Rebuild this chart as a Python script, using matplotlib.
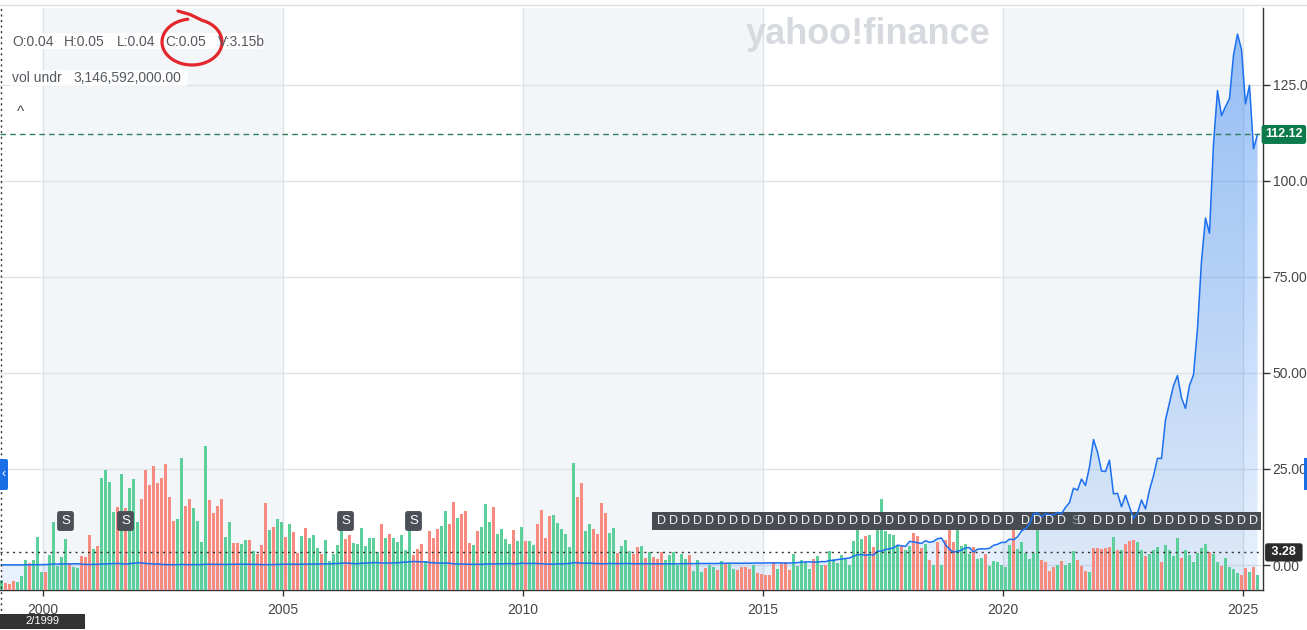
import numpy as np
import pandas as pd
import matplotlib.pyplot as plt
from matplotlib.patches import Rectangle, FancyBboxPatch
from matplotlib.transforms import blended_transform_factory

plt.rcParams['font.family'] = ['Liberation Sans', 'DejaVu Sans']

# monthly data, Feb 1999 .. Apr 2025 (split adjusted)
months = pd.date_range('1999-02-01', '2025-04-01', freq='MS')

close = [
    0.05, 0.04, 0.04, 0.04, 0.04, 0.04, 0.05, 0.06, 0.07, 0.08, 0.10,
    0.11, 0.17, 0.27, 0.24, 0.27, 0.27, 0.28, 0.32, 0.32, 0.25, 0.14, 0.14,
    0.19, 0.16, 0.27, 0.28, 0.33, 0.39, 0.41, 0.33, 0.23, 0.35, 0.46, 0.56,
    0.55, 0.40, 0.37, 0.23, 0.29, 0.14, 0.10, 0.10, 0.07, 0.10, 0.15, 0.10,
    0.09, 0.10, 0.11, 0.12, 0.20, 0.19, 0.17, 0.15, 0.14, 0.15, 0.18, 0.19,
    0.20, 0.20, 0.22, 0.18, 0.16, 0.17, 0.09, 0.11, 0.12, 0.12, 0.15, 0.20,
    0.19, 0.24, 0.20, 0.18, 0.23, 0.22, 0.23, 0.24, 0.29, 0.28, 0.30, 0.30,
    0.38, 0.37, 0.48, 0.53, 0.45, 0.36, 0.32, 0.49, 0.50, 0.56, 0.62, 0.62,
    0.52, 0.54, 0.48, 0.56, 0.56, 0.69, 0.76, 0.82, 0.91, 0.88, 0.79, 0.85,
    0.62, 0.57, 0.49, 0.52, 0.50, 0.47, 0.29, 0.28, 0.27, 0.22, 0.19, 0.20,
    0.19, 0.18, 0.25, 0.29, 0.27, 0.28, 0.31, 0.34, 0.38, 0.30, 0.32, 0.47,
    0.39, 0.39, 0.43, 0.39, 0.34, 0.26, 0.23, 0.23, 0.29, 0.30, 0.34, 0.39,
    0.61, 0.57, 0.46, 0.45, 0.50, 0.40, 0.35, 0.32, 0.31, 0.40, 0.38, 0.35,
    0.37, 0.39, 0.39, 0.32, 0.32, 0.35, 0.33, 0.34, 0.33, 0.30, 0.30, 0.31,
    0.31, 0.31, 0.32, 0.35, 0.36, 0.35, 0.35, 0.39, 0.39, 0.38, 0.38, 0.40,
    0.39, 0.45, 0.45, 0.48, 0.48, 0.46, 0.44, 0.48, 0.46, 0.49, 0.52, 0.50,
    0.54, 0.57, 0.52, 0.55, 0.55, 0.50, 0.50, 0.56, 0.62, 0.71, 0.80, 0.82,
    0.73, 0.77, 0.89, 0.87, 1.17, 1.18, 1.43, 1.53, 1.71, 1.82, 2.30, 2.67,
    2.73, 2.53, 2.72, 2.60, 3.61, 3.61, 4.04, 4.22, 4.47, 5.17, 5.00, 4.84,
    6.14, 6.02, 5.79, 5.62, 6.31, 5.92, 6.12, 6.85, 7.03, 5.27, 4.09, 3.34,
    3.59, 3.86, 4.49, 4.52, 3.38, 4.11, 4.22, 4.19, 4.35, 5.12, 5.40, 5.88,
    5.90, 6.73, 6.59, 7.31, 8.87, 9.50, 10.61, 13.38, 13.53, 12.53, 13.40, 13.05,
    12.99, 13.71, 13.34, 15.00, 16.24, 20.00, 19.50, 22.38, 20.71, 25.57, 32.68, 29.41,
    24.49, 24.35, 27.29, 18.54, 18.66, 15.16, 18.16, 15.09, 12.14, 13.50, 16.92, 14.61,
    19.54, 23.21, 27.78, 27.75, 37.81, 42.30, 46.72, 49.35, 43.50, 40.78, 46.77, 49.52,
    61.53, 79.11, 90.36, 86.40, 109.63, 123.54, 117.02, 119.37, 121.44, 132.76, 138.25, 134.29,
    120.07, 124.92, 108.38, 112.12,
]

# monthly volume, billions of shares
volume = [
    3.15, 2.2, 1.8, 2.7, 2.4, 4.2, 9.0, 8.1, 9.0, 15.9,
    5.4, 5.4, 10.5, 20.4, 7.2, 9.9, 15.3, 8.1, 6.9, 6.6,
    10.2, 9.9, 16.5, 12.3, 13.2, 33.6, 36.0, 32.4, 23.4, 24.9,
    34.8, 24.6, 30.6, 33.3, 20.4, 27.3, 36.0, 31.5, 37.2, 32.1,
    33.6, 37.8, 27.9, 20.7, 21.3, 39.6, 25.2, 27.3, 24.6, 20.7,
    14.4, 43.2, 27.0, 23.1, 25.2, 27.3, 15.9, 20.4, 14.1, 14.1,
    13.8, 15.0, 15.0, 11.7, 10.8, 13.5, 26.1, 18.0, 18.9, 21.3,
    20.4, 15.9, 19.8, 17.4, 11.1, 16.2, 18.6, 15.6, 16.5, 12.6,
    10.8, 15.0, 8.7, 10.8, 13.5, 18.0, 15.3, 16.5, 14.1, 13.8,
    18.6, 13.2, 15.6, 15.6, 11.4, 19.8, 15.6, 16.8, 15.6, 14.4,
    16.5, 12.0, 18.3, 10.5, 12.3, 13.8, 8.7, 17.7, 15.6, 18.3,
    19.2, 23.7, 19.8, 26.4, 21.6, 22.8, 23.7, 14.1, 13.5, 17.7,
    18.9, 25.8, 20.4, 24.9, 16.8, 18.3, 15.3, 13.8, 18.0, 14.7,
    18.9, 14.7, 14.7, 13.5, 19.8, 24.0, 15.6, 22.2, 22.5, 20.1,
    18.3, 16.8, 12.9, 38.1, 27.9, 32.1, 17.7, 19.8, 18.3, 16.8,
    26.1, 23.1, 17.1, 18.6, 11.1, 13.2, 15.0, 11.7, 10.8, 12.9,
    13.2, 9.6, 11.4, 9.9, 9.3, 11.4, 9.0, 10.5, 11.4, 7.5,
    10.8, 9.3, 10.5, 5.7, 9.0, 5.4, 6.6, 7.5, 6.9, 6.0,
    8.7, 8.1, 7.8, 6.3, 6.0, 6.9, 6.9, 6.3, 7.5, 5.1,
    4.8, 4.5, 4.5, 8.4, 6.3, 8.1, 8.4, 6.0, 10.8, 7.2,
    9.0, 8.4, 6.3, 9.3, 10.2, 7.5, 7.5, 11.7, 9.3, 8.1,
    10.5, 9.6, 7.5, 14.7, 20.1, 15.3, 16.2, 16.5, 12.9, 20.1,
    27.3, 17.7, 16.8, 16.5, 13.5, 13.2, 12.0, 13.2, 17.1, 16.2,
    12.6, 13.8, 9.0, 7.5, 14.4, 7.5, 15.0, 19.5, 14.4, 19.5,
    13.2, 13.8, 10.8, 12.9, 9.3, 9.6, 10.8, 7.2, 8.7, 8.4,
    7.5, 6.9, 13.5, 18.9, 12.3, 14.4, 11.1, 9.3, 11.1, 18.0,
    9.0, 8.4, 5.7, 6.9, 7.5, 8.7, 7.5, 8.1, 11.7, 9.0,
    7.2, 5.7, 5.4, 12.6, 12.6, 12.3, 12.6, 12.9, 15.9, 12.0,
    12.0, 13.8, 14.7, 15.0, 14.4, 12.0, 10.2, 10.8, 12.0, 12.9,
    8.4, 13.5, 12.0, 10.2, 15.6, 9.6, 12.0, 10.5, 8.4, 11.1,
    12.6, 13.8, 11.4, 10.8, 8.4, 7.2, 9.6, 6.9, 6.3, 5.1,
    4.5, 6.6, 5.4, 6.9, 4.5,
]

# g = up month, r = down month
direction = (
    "grrrgggrgg" "grgggggrgg" "rrrgrggggr" "grgggrrrrr" "rrrrggrrgg"
    "ggrrrrggrr" "ggrgrrrgrg" "grgrrgrggg" "rgggggrrgg" "gggggrgrgg"
    "gggrrrgrrr" "ggrrgrrrgr" "gggrggggrg" "grggrrrrgg" "ggggrrggrr"
    "rrggrgggrr" "grgrrrgggg" "ggrgggrggr" "grggrrrrgr" "rrrrgrrrgg"
    "gggrggrggg" "ggggggrgrg" "gggggrggrr" "rgrgrgrrrg" "gggrggrggg"
    "gggrgggggg" "rrrrgrgggr" "rrgrrrrrgr" "grrrggrggg" "rggggrgggg"
    "ggrggrgggg" "rrgrg"
)

split_dates = ['2000-06-01', '2001-09-01', '2006-04-01', '2007-09-01']
div_dates = list(pd.date_range('2012-11-01', '2020-02-01', freq='3MS')) + list(pd.to_datetime([
    '2020-06-01', '2020-09-01', '2020-12-01', '2021-03-01', '2021-08-01', '2021-12-01',
    '2022-03-01', '2022-06-01', '2022-11-01', '2023-03-01', '2023-06-01', '2023-09-01',
    '2023-12-01', '2024-03-01', '2024-09-01', '2024-12-01', '2025-03-01']))
band_extra = [('2024-06-01', 'S', 'white'), ('2021-06-15', 'S', '#8d9299'), ('2022-08-19', 'I', 'white')]

last_price = 112.12
ref_price = 3.28
year_ticks = [2000, 2005, 2010, 2015, 2020, 2025]
price_ticks = [0, 25, 50, 75, 100, 125]


def to_t(d):
    d = pd.Timestamp(d)
    return d.year + (d.month - 1) / 12 + (d.day - 1) / 365.25 + 0.052


t = np.array([to_t(m) for m in months])
X0, X1 = 1999.1042, 2025.4167
Y0, Y1 = -6.51, 145.05

W, H = 1307, 630
fig = plt.figure(figsize=(W / 100, H / 100), dpi=100)
rect = [0, 40 / H, 1263 / W, 582 / H]

# base axes: bands, grid, gradient area, ticks
ax = fig.add_axes(rect)
ax.set_xlim(X0, X1)
ax.set_ylim(Y0, Y1)
for a in [2000, 2010, 2020]:
    ax.axvspan(a, a + 5, color='#f3f6f9', lw=0, zorder=0)
ax.set_xticks(year_ticks)
ax.set_xticklabels([str(y) for y in year_ticks])
ax.set_yticks(price_ticks)
ax.set_yticklabels(['%.2f' % v for v in price_ticks])
ax.yaxis.tick_right()
ax.grid(True, color='#dfe2e7', lw=1)
ax.set_axisbelow(True)
ax.tick_params(axis='x', length=4, width=1, color='#333333', pad=5, labelsize=10, labelcolor='#464646')
ax.tick_params(axis='y', length=5, width=1, color='#333333', pad=2, labelsize=10, labelcolor='#464646')
for s in ['top', 'left']:
    ax.spines[s].set_visible(False)
for s in ['right', 'bottom']:
    ax.spines[s].set_color('#333333')
    ax.spines[s].set_linewidth(1)

fill = ax.fill_between(t, close, Y0, facecolor='none', edgecolor='none')
n = 256
grad = np.zeros((n, 1, 4))
grad[:, 0, 0], grad[:, 0, 1], grad[:, 0, 2] = 0.12, 0.47, 0.94
grad[:, 0, 3] = np.linspace(0.46, 0.095, n)
im = ax.imshow(grad, extent=[X0, X1, Y0, Y1], aspect='auto', origin='upper',
               interpolation='bilinear', zorder=1)
im.set_clip_path(fill.get_paths()[0], transform=ax.transData)
ax.set_xlim(X0, X1)
ax.set_ylim(Y0, Y1)

# volume bars
axv = fig.add_axes(rect, sharex=ax)
axv.patch.set_visible(False)
axv.axis('off')
axv.set_ylim(0, 174.6)
bar_colors = ['#5dcf9b' if c == 'g' else '#f88b80' for c in direction]
axv.bar(t, volume, width=0.06, color=bar_colors, linewidth=0)

# price line and markers
axp = fig.add_axes(rect, sharex=ax, sharey=ax)
axp.patch.set_visible(False)
axp.axis('off')
axp.plot(t, close, color='#1b6ff0', lw=1.1)
axp.axhline(last_price, color='#2f7d5c', lw=1, ls=(0, (4, 3)))
axp.axhline(ref_price, color='#333333', lw=1, ls=(0, (1.5, 3)))

ty = blended_transform_factory(axp.transAxes, axp.transData)
axp.text(1.0165, last_price, last_price and '%.2f' % last_price, transform=ty, ha='center', va='center',
         color='white', fontsize=9, fontweight='bold', clip_on=False,
         bbox=dict(boxstyle='round,pad=0.28,rounding_size=0.2', fc='#0c7a4b', ec='none'))
axp.text(1.0165, ref_price, ' %.2f ' % ref_price, transform=ty, ha='center', va='center',
         color='white', fontsize=9, fontweight='bold', clip_on=False,
         bbox=dict(boxstyle='round,pad=0.25,rounding_size=0.2', fc='#2b2b2b', ec='none'))

tx = blended_transform_factory(axp.transData, axp.transAxes)
my = (590 - 521) / 582
for d in split_dates:
    axp.text(to_t(d), my, 'S', transform=tx, ha='center', va='center', color='white', fontsize=9.5,
             bbox=dict(boxstyle='round,pad=0.3,rounding_size=0.2', fc='#4b5058', ec='none'))

dx = [to_t(d) for d in div_dates]
axp.add_patch(Rectangle((dx[0] - 0.2, (590 - 530) / 582), dx[-1] - dx[0] + 0.35, 18 / 582,
                        transform=tx, fc='#474c53', ec='none'))
for x in dx:
    axp.text(x, my, 'D', transform=tx, ha='center', va='center', color='#f2f2f2', fontsize=9)
for d, lab, col in band_extra:
    axp.text(to_t(d), my, lab, transform=tx, ha='center', va='center', color=col, fontsize=9)

# crosshair at first month
axp.plot([t[0], t[0]], [(H - 616) / H, (H - 5) / H], color='#333333', lw=1, ls=(0, (1.5, 2.5)),
         transform=blended_transform_factory(axp.transData, fig.transFigure), clip_on=False)

# overlay in pixel coordinates for the UI chrome
ov = fig.add_axes([0, 0, 1, 1])
ov.set_xlim(0, W)
ov.set_ylim(H, 0)
ov.axis('off')
ov.plot([0, W], [5, 5], color='#dcdfe4', lw=1)
ov.text(868, 34, 'yahoo!finance', fontsize=26, fontweight='bold', color='#d6d9de',
        ha='center', va='center')

ov.add_patch(FancyBboxPatch((9, 33), 255, 16, boxstyle='round,pad=0,rounding_size=3',
                            fc='white', ec='none', alpha=0.85))
ov.add_patch(FancyBboxPatch((9, 70), 179, 16, boxstyle='round,pad=0,rounding_size=3',
                            fc='white', ec='none', alpha=0.85))
for x, s in [(12, 'O:0.04'), (64, 'H:0.05'), (117, 'L:0.04'), (165, 'C:0.05'), (218, 'V:3.15b')]:
    ov.text(x, 41.5, s, fontsize=10, color='#555a60', ha='left', va='center')
ov.text(12, 78.5, 'vol undr', fontsize=10, color='#555a60', ha='left', va='center')
ov.text(73, 78.5, '3,146,592,000.00', fontsize=10, color='#555a60', ha='left', va='center')
ov.text(20, 112, '^', fontsize=11, color='#444444', ha='center', va='center')

# hand-drawn red circle
th = np.radians(np.linspace(-70, 262, 150))
ex = 192 + 30 * np.cos(th)
ey = 42 + 23 * np.sin(th)
ov.plot(np.r_[178, 190, ex], np.r_[11, 14.5, ey], color='#e3262b', lw=2.3,
        solid_capstyle='round', solid_joinstyle='round')

# date label under the crosshair
ov.add_patch(Rectangle((0, 614), 85, 15, fc='#333333', ec='none'))
ov.text(42, 621.5, '2/1999', fontsize=8, color='white', ha='center', va='center')

# side tabs
ov.add_patch(FancyBboxPatch((-4, 459), 12, 31, boxstyle='round,pad=0,rounding_size=2',
                            fc='#1a6fe6', ec='none'))
ov.text(3.5, 474, '‹', fontsize=9, color='white', ha='center', va='center')
ov.add_patch(Rectangle((1304, 458), 4, 32, fc='#1a6fe6', ec='none'))

fig.savefig('out.png', dpi=100)
